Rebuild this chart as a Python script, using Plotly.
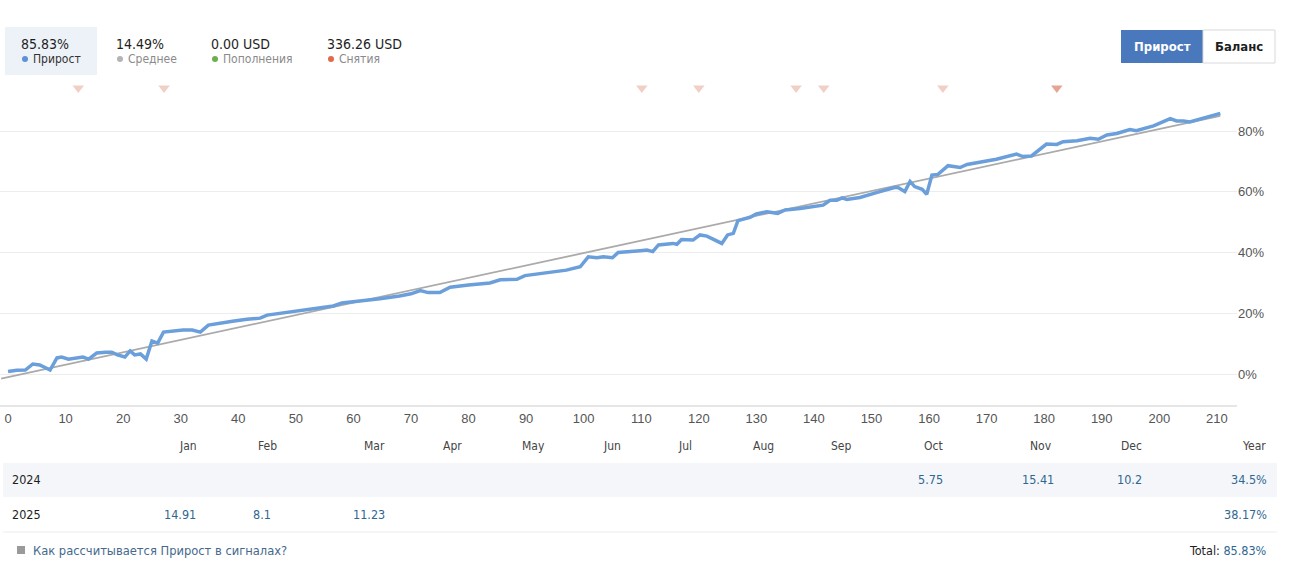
import plotly.graph_objects as go

# ---------------- data ----------------
days = [0, 1.5, 3, 4.3, 5.5, 6.5, 7.3, 8.5, 9.3, 10.5, 12, 13, 14, 15.4, 17, 18, 19, 20.3, 21.2, 22, 23, 24,
        25, 26, 27, 29, 30.4, 32, 33.4, 34.8, 36.8, 39, 41.5, 43.8, 45, 47.8, 50.7, 53.7, 56.5, 58, 60, 62.3,
        64.6, 68, 70, 71.6, 73, 75, 76.8, 80, 83.7, 85.5, 88.4, 89.8, 93, 97, 99.4, 100.8, 102.3, 103.4, 105,
        106, 109.8, 111, 112, 113, 115.5, 116.2, 117, 119, 120.2, 121.4, 124, 125, 126, 126.8, 128.9, 130,
        131.8, 133.7, 135, 137.6, 141.6, 142.8, 144, 144.9, 145.7, 148, 151, 154, 154.6, 155.8, 156.7, 157.5,
        158.8, 159.6, 160.5, 161.5, 163.3, 165.4, 166.6, 169.4, 171.7, 175.2, 176.3, 177.8, 180.4, 182.2,
        183.3, 185.7, 188, 189.4, 190.9, 192.6, 194.9, 196, 199, 200.7, 201.9, 203, 204.2, 205.3, 206.5,
        208.2, 210.6]
growth = [0.8, 1.2, 1.3, 3.3, 3.0, 2.0, 1.3, 5.3, 5.6, 4.9, 5.3, 5.6, 4.9, 6.9, 7.2, 7.2, 6.3, 5.6, 7.6, 6.3,
          6.6, 4.9, 10.9, 10.2, 13.8, 14.3, 14.5, 14.5, 13.8, 16.1, 16.8, 17.4, 18.0, 18.4, 19.4, 20.1, 21.0,
          21.7, 22.4, 23.4, 23.8, 24.4, 24.8, 25.7, 26.4, 27.5, 26.8, 26.8, 28.6, 29.3, 30.0, 31.0, 31.2, 32.4,
          33.1, 34.2, 35.3, 38.6, 38.3, 38.6, 38.3, 40.0, 40.6, 40.8, 40.3, 42.5, 43.0, 42.7, 44.3, 44.1, 45.8,
          45.4, 43.0, 45.8, 46.3, 50.5, 51.6, 52.7, 53.4, 52.9, 54.0, 54.5, 55.6, 57.2, 57.2, 58.0, 57.5, 58.1,
          59.8, 61.4, 61.4, 60.1, 63.4, 61.7, 60.8, 59.2, 65.5, 65.7, 68.6, 68.0, 69.0, 69.9, 70.7, 72.4, 71.6,
          71.8, 75.7, 75.6, 76.5, 76.8, 77.6, 77.3, 78.7, 79.2, 80.5, 80.1, 81.7, 83.1, 84.1, 83.3, 83.3, 83.0,
          83.6, 84.7, 85.83]

avg_days = [-1.2, 210.6]
avg_growth = [-1.5, 85.0]

withdraw_days = [12.2, 27.1, 110.1, 120.0, 136.9, 141.7, 162.4, 182.2]
withdraw_big = [False, False, False, False, False, False, False, True]

x_ticks = list(range(0, 211, 10))
y_ticks = [0, 20, 40, 60, 80]

summary_values = ["85.83%", "14.49%", "0.00 USD", "336.26 USD"]
summary_labels = ["Прирост", "Среднее", "Пополнения", "Снятия"]

months = ["Jan", "Feb", "Mar", "Apr", "May", "Jun", "Jul", "Aug", "Sep", "Oct", "Nov", "Dec", "Year"]
years = ["2024", "2025"]
year_2024 = {"Oct": "5.75", "Nov": "15.41", "Dec": "10.2", "Year": "34.5%"}
year_2025 = {"Jan": "14.91", "Feb": "8.1", "Mar": "11.23", "Year": "38.17%"}
total_text = "85.83%"

# ---------------- layout helpers ----------------
W, H = 1290, 583
L, R, T, B = 0, 53, 80, 178
PW, PH = W - L - R, H - T - B


def px(x):
    return (x - L) / PW


def py(y):
    return (H - B - y) / PH


TXT_FONT = "DejaVu Sans Condensed, Liberation Sans Narrow, Tahoma, DejaVu Sans, sans-serif"
AX_FONT = "Liberation Sans, Arial, sans-serif"
BLUE = "#6a9fdb"
VAL_COLOR = "#2f6791"

fig = go.Figure()

fig.add_trace(go.Scatter(x=avg_days, y=avg_growth, mode="lines",
                         line=dict(color="#aaaaaa", width=1.8), hoverinfo="skip", showlegend=False))
fig.add_trace(go.Scatter(x=days, y=growth, mode="lines",
                         line=dict(color=BLUE, width=3.5), showlegend=False))

marker_y = 94.2
fig.add_trace(go.Scatter(
    x=withdraw_days, y=[marker_y] * len(withdraw_days), mode="markers",
    marker=dict(symbol="triangle-down", size=10,
                color=["#e6a592" if b else "#f1cfc5" for b in withdraw_big], line=dict(width=0)),
    showlegend=False, hoverinfo="skip"))

shapes = []
annotations = []

# header highlight box
shapes.append(dict(type="rect", xref="paper", yref="paper", x0=px(5), x1=px(97), y0=py(75), y1=py(27),
                   fillcolor="#edf2f8", line=dict(width=0), layer="below"))
sum_x = [19, 114, 209, 325]
dot_colors = ["#5b93d6", "#b4b4b8", "#6ab04c", "#e2694c"]
label_colors = ["#333333", "#8a8a8a", "#8a8a8a", "#8a8a8a"]
for i in range(4):
    annotations.append(dict(xref="paper", yref="paper", x=px(sum_x[i]), y=py(44), text=summary_values[i],
                            showarrow=False, xanchor="left", yanchor="middle",
                            font=dict(family=TXT_FONT, size=14, color="#1e1e1e")))
    shapes.append(dict(type="circle", xref="paper", yref="paper",
                       x0=px(sum_x[i] + 3), x1=px(sum_x[i] + 9), y0=py(62), y1=py(56),
                       fillcolor=dot_colors[i], line=dict(width=0)))
    annotations.append(dict(xref="paper", yref="paper", x=px(sum_x[i] + 12), y=py(59), text=summary_labels[i],
                            showarrow=False, xanchor="left", yanchor="middle",
                            font=dict(family=TXT_FONT, size=12, color=label_colors[i])))

# buttons
shapes.append(dict(type="rect", xref="paper", yref="paper", x0=px(1121), x1=px(1203), y0=py(63), y1=py(30),
                   fillcolor="#4a78bd", line=dict(width=0)))
shapes.append(dict(type="rect", xref="paper", yref="paper", x0=px(1203), x1=px(1275), y0=py(63), y1=py(30),
                   fillcolor="#ffffff", line=dict(width=1, color="#d9d9d9")))
annotations.append(dict(xref="paper", yref="paper", x=px(1162), y=py(47), text="<b>Прирост</b>",
                        showarrow=False, xanchor="center", yanchor="middle",
                        font=dict(family=TXT_FONT, size=13, color="#ffffff")))
annotations.append(dict(xref="paper", yref="paper", x=px(1239), y=py(47), text="<b>Баланс</b>",
                        showarrow=False, xanchor="center", yanchor="middle",
                        font=dict(family=TXT_FONT, size=13, color="#1e1e1e")))

# month header
month_x = [188, 267, 374, 452, 533, 612, 685, 763, 842, 933, 1041, 1131, 1254]
for m, mx in zip(months, month_x):
    annotations.append(dict(xref="paper", yref="paper", x=px(mx), y=py(446), text=m, showarrow=False,
                            xanchor="center", yanchor="middle",
                            font=dict(family=TXT_FONT, size=12, color="#444444")))

# table rows
shapes.append(dict(type="rect", xref="paper", yref="paper", x0=px(3), x1=px(1277), y0=py(497), y1=py(463),
                   fillcolor="#f4f6f9", line=dict(width=0), layer="below"))
shapes.append(dict(type="line", xref="paper", yref="paper", x0=px(3), x1=px(1277), y0=py(532), y1=py(532),
                   line=dict(color="#ececec", width=1)))
row_y = [479, 514]
val_x = {"Jan": 180, "Feb": 262, "Mar": 369, "Oct": 930, "Nov": 1038, "Dec": 1129}
for yr, ry, vals in zip(years, row_y, [year_2024, year_2025]):
    annotations.append(dict(xref="paper", yref="paper", x=px(10), y=py(ry), text=yr, showarrow=False,
                            xanchor="left", yanchor="middle",
                            font=dict(family=TXT_FONT, size=12.5, color="#1e1e1e")))
    for k, v in vals.items():
        if k == "Year":
            annotations.append(dict(xref="paper", yref="paper", x=px(1269), y=py(ry), text=v, showarrow=False,
                                    xanchor="right", yanchor="middle",
                                    font=dict(family=TXT_FONT, size=12.5, color=VAL_COLOR)))
        else:
            annotations.append(dict(xref="paper", yref="paper", x=px(val_x[k]), y=py(ry), text=v,
                                    showarrow=False, xanchor="center", yanchor="middle",
                                    font=dict(family=TXT_FONT, size=12.5, color=VAL_COLOR)))

# footer
shapes.append(dict(type="rect", xref="paper", yref="paper", x0=px(17), x1=px(25), y0=py(554), y1=py(546),
                   fillcolor="#9a9a9a", line=dict(width=0)))
annotations.append(dict(xref="paper", yref="paper", x=px(31), y=py(550),
                        text="Как рассчитывается Прирост в сигналах?", showarrow=False,
                        xanchor="left", yanchor="middle",
                        font=dict(family=TXT_FONT, size=12.8, color="#44698c")))
annotations.append(dict(xref="paper", yref="paper", x=px(1269), y=py(550),
                        text="Total: <span style='color:%s'>%s</span>" % (VAL_COLOR, total_text),
                        showarrow=False, xanchor="right", yanchor="middle",
                        font=dict(family=TXT_FONT, size=12.5, color="#1e1e1e")))

fig.update_layout(
    width=W, height=H,
    margin=dict(l=L, r=R, t=T, b=B),
    paper_bgcolor="#ffffff", plot_bgcolor="#ffffff",
    shapes=shapes, annotations=annotations,
    xaxis=dict(range=[-1.4, 213.5], tickvals=x_ticks, ticktext=[str(v) for v in x_ticks],
               showgrid=False, zeroline=False, showline=True, linecolor="#e6e6e6", linewidth=2,
               ticks="", tickfont=dict(family=AX_FONT, size=13, color="#555555"), fixedrange=True),
    yaxis=dict(range=[-10.2, 96.8], tickvals=y_ticks, ticktext=["%d%%" % v for v in y_ticks],
               side="right", showgrid=True, gridcolor="#ededed", gridwidth=1, zeroline=False,
               showline=False, ticks="", tickfont=dict(family=AX_FONT, size=13, color="#555555"),
               fixedrange=True),
    showlegend=False,
    hovermode="x",
)

fig.write_html("out.html")
